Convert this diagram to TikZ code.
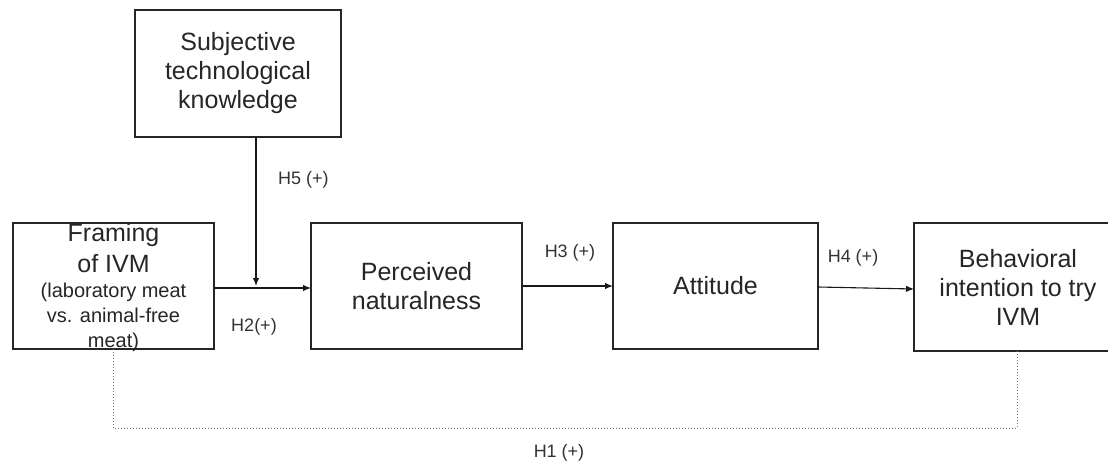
\documentclass[tikz,border=0pt]{standalone}
\usepackage{fontspec}
\setmainfont{Liberation Sans}
\usetikzlibrary{arrows.meta}
\begin{document}
\begin{tikzpicture}[x=1pt,y=-1pt,
  box/.style={draw=black!85, line width=1.3pt, inner sep=0pt, outer sep=0pt,
    align=center, text=black!85, font=\fontsize{25}{29}\selectfont},
  arr/.style={draw=black!90, line width=1.1pt, -{Latex[length=8pt,width=6.5pt]}},
  dotline/.style={draw=black!55, line width=1pt, dotted},
  lbl/.style={inner sep=0pt, text=black!80, font=\fontsize{18}{20}\selectfont}]
\useasboundingbox[fill=white] (0,0) rectangle (1108,463);

\node[box, minimum width=206pt, minimum height=127pt] (subj) at (238,73.5)
  {Subjective\\technological\\knowledge};
\node[box, minimum width=201pt, minimum height=126pt] (framing) at (113.5,286) {};
\node[inner sep=0pt, align=center, text=black!85, font=\fontsize{20}{25}\selectfont] (framingtext) at (113.5,288)
  {{\fontsize{25}{25}\selectfont Framing}\\[6pt]{\fontsize{25}{25}\selectfont of IVM}\\(laboratory meat\\vs. animal-free\\meat)};
\node[box, minimum width=211pt, minimum height=126pt] (perc) at (416.5,286)
  {Perceived\\naturalness};
\node[box, minimum width=205pt, minimum height=126pt] (att) at (715.5,286)
  {Attitude};
\node[box, minimum width=208pt, minimum height=128pt] (beh) at (1018,287)
  {Behavioral\\intention to try\\IVM};

\coordinate (join) at (256,288);
\draw[arr] ([yshift=-2pt]framing.east) -- ([yshift=-2pt]perc.west);
\draw[arr, shorten >=2pt] ([xshift=18pt]subj.south) -- (join);
\draw[arr] (perc.east) -- (att.west);
\draw[arr] ([yshift=-1pt]att.east) -- ([yshift=-2pt]beh.west);
\draw[dotline] ([xshift=-0.5pt]framing.south) -- ++(0,79) -| ([xshift=-1pt]beh.south);

\node[lbl, anchor=west] (h5) at (278,180) {H5 (+)};
\node[lbl] (h2) at (254,327) {H2(+)};
\node[lbl] (h3) at (570,253) {H3 (+)};
\node[lbl] (h4) at (853,258) {H4 (+)};
\node[lbl] (h1) at (559,453) {H1 (+)};
\end{tikzpicture}
\end{document}
